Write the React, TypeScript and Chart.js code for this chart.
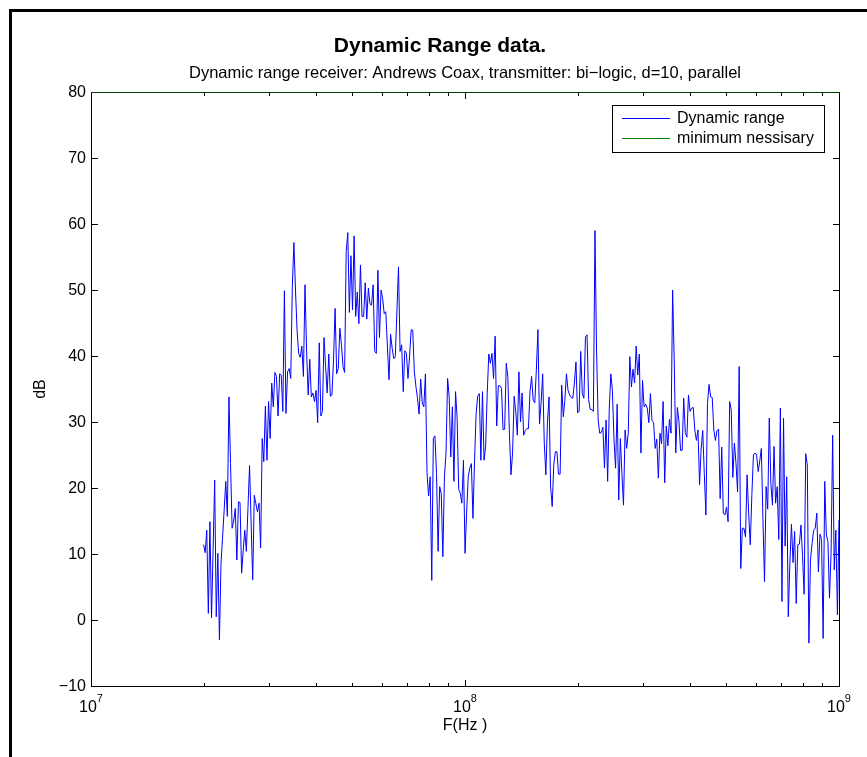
import { useEffect, useRef } from 'react';
import { Chart, registerables } from 'chart.js';

Chart.register(...registerables);

// Log sweep of the receiver measurement, Hz
const sweepStartHz = 20e6;
const sweepStopHz = 1e9;

// Measured dynamic range per sweep point, dB
const rangeDb: number[] = [
  11.4, 10.2, 13.6, 1.0, 14.9, 0.3, 10.5, 21.2, 0.5, 10.1, -3.0, 8.6, 12.6, 16.7, 21.0, 15.7, 33.8, 23.7, 13.9, 15.0,
  16.9, 9.1, 17.9, 17.8, 7.1, 10.5, 13.6, 10.4, 16.9, 23.4, 14.7, 6.1, 18.9, 17.6, 16.4, 17.7, 10.9, 27.5, 24.0, 32.4,
  24.2, 33.1, 27.5, 35.9, 32.3, 37.5, 36.9,
  30.9, 37.3, 37.1, 31.6, 49.9, 31.3, 37.6, 38.1, 36.6, 50.5, 57.2, 50.0, 43.9, 40.4, 39.8, 41.5, 36.9, 50.8,
  40.9, 34.1, 39.5, 33.8, 34.4, 33.1, 34.8, 29.9, 42.0, 30.9, 31.6, 42.8, 38.4, 34.4, 40.3, 33.9, 34.1, 39.4,
  47.2, 37.3, 38.1, 44.2, 41.7, 38.4, 37.5, 55.8, 58.7, 46.6, 55.2, 47.0, 58.2,
  46.0, 49.7, 44.9, 53.8, 46.0, 46.0, 51.1, 45.6, 50.3, 47.9, 47.7, 50.8, 40.7, 40.4, 53.0, 42.8, 50.0, 48.7,
  46.4, 46.7, 41.5, 36.4, 43.3, 41.2, 39.6, 39.9, 46.7, 53.5, 40.7, 41.7, 34.6, 40.8, 40.4, 36.6, 40.0, 44.0,
  43.9, 37.6, 35.4, 33.6, 31.2, 36.5, 32.9, 32.3, 37.3, 22.3, 18.8, 21.7, 6.0, 27.5, 27.9,
  22.2, 10.4, 20.2, 19.1, 9.6, 21.7, 25.3, 36.6, 33.8, 24.7, 32.3, 21.0, 34.6, 30.6, 19.8, 19.2, 17.7, 24.2,
  10.1, 16.2, 21.7, 23.0, 23.7, 15.4, 24.2, 31.3, 33.9, 34.3, 24.2, 34.6, 24.2, 26.3, 34.3, 40.3, 38.9, 40.4,
  36.6, 43.0, 29.4, 35.5, 35.5, 35.1, 28.8, 28.9, 38.9, 36.9, 28.3, 22.0, 25.3, 33.9, 31.6,
  28.0, 37.6, 30.0, 34.4, 28.0, 28.7, 29.0, 29.0, 34.6, 36.9, 33.3, 32.9, 37.9, 44.0, 29.7, 32.9, 37.3, 26.8,
  22.0, 29.9, 33.8, 20.2, 17.2, 23.5, 25.5, 25.5, 22.1, 22.1, 35.6, 30.8, 33.3, 37.3, 34.8, 34.1, 33.7, 33.6,
  35.9, 39.1, 31.4, 31.6, 40.7, 34.3, 33.6, 42.9, 43.2, 33.4, 31.9, 31.9, 31.6, 59.0,
  40.9, 30.3, 28.3, 28.4, 29.2, 23.0, 30.3, 21.0, 31.9, 37.3, 34.8, 27.3, 23.0, 32.7, 18.2, 27.5, 22.2, 17.4,
  28.8, 26.0, 28.3, 39.9, 35.3, 38.0, 35.9, 41.5, 37.1, 40.3, 25.3, 36.3, 32.3, 32.7, 32.1, 29.9, 34.3, 30.2,
  29.9, 26.0, 27.4, 21.5, 28.3, 26.7, 33.1, 20.8, 29.4, 26.4, 30.4, 28.3, 50.0,
  39.4, 25.3, 32.2, 30.1, 25.7, 25.7, 33.6, 28.4, 27.7, 34.1, 31.6, 32.1, 32.2, 28.8, 27.2, 28.8, 20.5, 25.9,
  28.7, 22.2, 15.9, 32.8, 35.7, 33.8, 33.7, 28.8, 27.2, 28.7, 28.9, 18.4, 26.2, 16.2, 15.9, 17.1, 14.9, 33.1,
  31.8, 21.6, 26.8, 23.7, 19.4, 38.4, 7.8, 13.9, 13.9, 12.6, 22.0, 16.1, 11.4, 18.9, 25.0, 25.3,
  25.0, 22.5, 24.1, 26.0, 15.2, 5.8, 20.2, 16.8, 30.6, 20.7, 17.4, 26.3, 17.7, 20.2, 12.2, 32.1, 2.8, 30.6,
  11.2, 21.7, 0.5, 8.6, 14.5, 8.7, 13.4, 2.5, 11.4, 11.5, 14.4, 9.6, 3.9, 25.2, 23.5, -3.5, 9.1, 11.6, 13.6,
  13.9, 16.2, 7.3, 13.0, 12.2, -2.8, 21.0, 12.9, 11.9, 3.3, 10.1, 28.0, 7.6, 13.6, 0.8, 15.2,
];

// Required minimum, drawn across the whole band
const minimumFreqHz = [1e7, 1e9];
const minimumDb = [80, 80];

// Axis setup
const xMinHz = 1e7;
const xMaxHz = 1e9;
const yMin = -10;
const yMax = 80;
const yTicks = [-10, 0, 10, 20, 30, 40, 50, 60, 70, 80];
const xDecades = [7, 8, 9];
const minorSteps = [2, 3, 4, 5, 6, 7, 8, 9];

const titleText = 'Dynamic Range data.';
const subtitleText = 'Dynamic range receiver: Andrews Coax, transmitter: bi\u2212logic, d=10, parallel';
const xLabelText = 'F(Hz )';
const yLabelText = 'dB';
const seriesNames = ['Dynamic range', 'minimum nessisary'];
const seriesColors = ['#0000ff', '#008000'];

const FONT = '"Liberation Sans", Arial, Helvetica, sans-serif';

const sweepFreqHz = rangeDb.map(
  (_, i) => sweepStartHz * Math.pow(sweepStopHz / sweepStartHz, i / (rangeDb.length - 1))
);

// Box axes with inward ticks, log minor ticks, and the figure annotations
const figureDecor = {
  id: 'figureDecor',
  beforeDatasetsDraw(chart: any) {
    const { ctx, chartArea: a, scales } = chart;
    const xs = scales.x;
    const ys = scales.y;
    const L = Math.round(a.left);
    const R = Math.round(a.right);
    const T = Math.round(a.top);
    const B = Math.round(a.bottom);
    ctx.save();

    // figure frame
    ctx.fillStyle = '#000';
    ctx.fillRect(9, 9, 3, 760);
    ctx.fillRect(9, 9, 870, 3);

    // axes box
    ctx.fillRect(L, T, R - L + 1, 1);
    ctx.fillRect(L, B, R - L + 1, 1);
    ctx.fillRect(L, T, 1, B - T + 1);
    ctx.fillRect(R, T, 1, B - T + 1);

    // y ticks, both sides
    const major = 7;
    yTicks.forEach((v) => {
      const y = Math.round(ys.getPixelForValue(v));
      ctx.fillRect(L, y, major, 1);
      ctx.fillRect(R - major + 1, y, major, 1);
    });

    // x ticks, top and bottom
    xDecades.forEach((d) => {
      const x = Math.round(xs.getPixelForValue(Math.pow(10, d)));
      ctx.fillRect(x, B - major + 1, 1, major);
      ctx.fillRect(x, T, 1, major);
      if (d < xDecades[xDecades.length - 1]) {
        minorSteps.forEach((k) => {
          const xm = Math.round(xs.getPixelForValue(k * Math.pow(10, d)));
          ctx.fillRect(xm, B - 4 + 1, 1, 4);
          ctx.fillRect(xm, T, 1, 4);
        });
      }
    });

    // y tick labels
    ctx.fillStyle = '#000';
    ctx.font = `16px ${FONT}`;
    ctx.textAlign = 'right';
    ctx.textBaseline = 'middle';
    yTicks.forEach((v) => {
      const y = ys.getPixelForValue(v);
      const txt = v < 0 ? '\u2212' + Math.abs(v) : String(v);
      ctx.fillText(txt, L - 5, y + 1);
    });

    // x tick labels: 10 with exponent
    ctx.textBaseline = 'alphabetic';
    ctx.textAlign = 'left';
    xDecades.forEach((d) => {
      const x = xs.getPixelForValue(Math.pow(10, d));
      ctx.font = `16px ${FONT}`;
      const wBase = ctx.measureText('10').width;
      ctx.font = `11px ${FONT}`;
      const wExp = ctx.measureText(String(d)).width;
      const x0 = x - (wBase + wExp) / 2;
      ctx.font = `16px ${FONT}`;
      ctx.fillText('10', x0, B + 26);
      ctx.font = `11px ${FONT}`;
      ctx.fillText(String(d), x0 + wBase, B + 16);
    });

    // axis labels
    ctx.font = `16px ${FONT}`;
    ctx.textAlign = 'center';
    ctx.fillText(xLabelText, (L + R) / 2, 730);
    ctx.save();
    ctx.translate(45, (T + B) / 2);
    ctx.rotate(-Math.PI / 2);
    ctx.textBaseline = 'alphabetic';
    ctx.fillText(yLabelText, 0, 0);
    ctx.restore();

    // title and subtitle
    ctx.font = `bold 21px ${FONT}`;
    ctx.fillText(titleText, 440, 52);
    ctx.font = `16.5px ${FONT}`;
    ctx.fillText(subtitleText, (L + R) / 2, 78);

    ctx.restore();
  },
  afterDatasetsDraw(chart: any) {
    const { ctx } = chart;
    ctx.save();
    // legend box
    const bx = 612;
    const by = 105;
    const bw = 212;
    const bh = 47;
    ctx.fillStyle = '#fff';
    ctx.fillRect(bx, by, bw, bh);
    ctx.strokeStyle = '#000';
    ctx.lineWidth = 1;
    ctx.strokeRect(bx + 0.5, by + 0.5, bw, bh);
    ctx.font = `16px ${FONT}`;
    ctx.textAlign = 'left';
    ctx.textBaseline = 'middle';
    seriesNames.forEach((name, i) => {
      const y = by + 13 + i * 20;
      ctx.strokeStyle = seriesColors[i];
      ctx.beginPath();
      ctx.moveTo(622, y + 0.5);
      ctx.lineTo(670, y + 0.5);
      ctx.stroke();
      ctx.fillStyle = '#000';
      ctx.fillText(name, 677, y + 1);
    });
    ctx.restore();
  },
};

export default function App() {
  const canvasRef = useRef<HTMLCanvasElement | null>(null);

  useEffect(() => {
    const canvas = canvasRef.current;
    if (!canvas) return;
    const chart = new Chart(canvas, {
      type: 'line',
      data: {
        datasets: [
          {
            label: seriesNames[0],
            data: sweepFreqHz.map((f, i) => ({ x: f, y: rangeDb[i] })),
            borderColor: seriesColors[0],
            borderWidth: 1,
            pointRadius: 0,
            tension: 0,
            fill: false,
          },
          {
            label: seriesNames[1],
            data: minimumFreqHz.map((f, i) => ({ x: f, y: minimumDb[i] })),
            borderColor: seriesColors[1],
            borderWidth: 1,
            pointRadius: 0,
            tension: 0,
            fill: false,
          },
        ],
      },
      options: {
        animation: false,
        responsive: false,
        devicePixelRatio: 1,
        parsing: false as any,
        layout: { padding: { left: 91, right: 867 - 839, top: 92, bottom: 757 - 686 } },
        scales: {
          x: { type: 'logarithmic', min: xMinHz, max: xMaxHz, display: false },
          y: { type: 'linear', min: yMin, max: yMax, display: false },
        },
        plugins: {
          legend: { display: false },
          title: { display: false },
          tooltip: { enabled: false },
        },
      },
      plugins: [figureDecor],
    });
    return () => chart.destroy();
  }, []);

  return (
    <div style={{ position: 'fixed', left: 0, top: 0, width: 867, height: 757, background: '#fff' }}>
      <canvas ref={canvasRef} width={867} height={757} style={{ display: 'block' }} />
    </div>
  );
}
